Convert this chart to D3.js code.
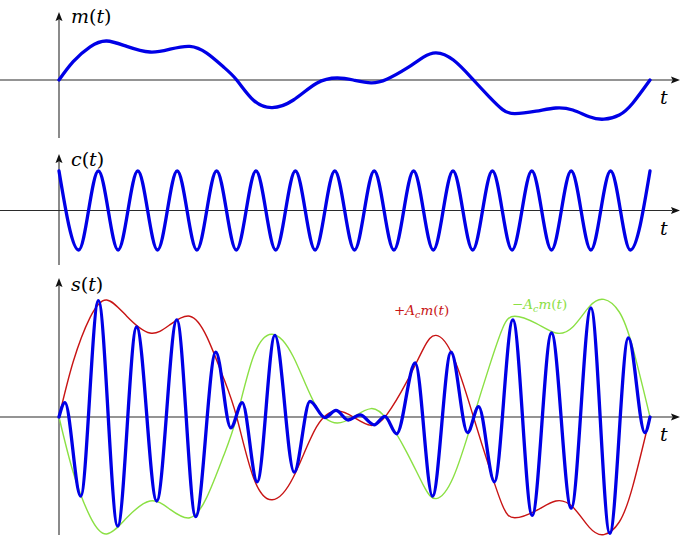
<!DOCTYPE html>
<html>
<head>
<meta charset="utf-8">
<script src="https://cdn.jsdelivr.net/npm/d3@7"></script>
<style>
  body { margin: 0; background: #fff; }
  svg { display: block; }
  .lbl { font-family: "DejaVu Serif", "Liberation Serif", serif; }
</style>
</head>
<body>
<div id="chart"></div>
<script>
// message m(t) (t in carrier periods)
var mTimes = [0, 0.36, 0.79, 1.21, 1.72, 2.31, 2.82, 3.32, 3.75, 4.17, 4.51, 4.93, 5.41, 5.95,
  6.54, 7.06, 7.47, 7.92, 8.32, 8.82, 9.25, 9.57, 10.01, 10.52, 10.92, 11.26, 11.57, 12.11,
  12.61, 13.04, 13.46, 13.83, 14.22, 14.56, 15];
var mValues = [0, 0.46, 0.83, 0.975, 0.84, 0.70, 0.77, 0.84, 0.67, 0.33, 0, -0.5, -0.69, -0.5,
  -0.08, 0.05, 0.0, -0.07, 0.02, 0.29, 0.57, 0.68, 0.5, 0, -0.42, -0.74, -0.84, -0.78,
  -0.70, -0.75, -0.92, -0.98, -0.875, -0.58, 0];

// carrier c(t): its peaks and troughs
var cTimes = [0, 0.5, 1, 1.5, 2, 2.5, 3, 3.5, 4, 4.5, 5, 5.5, 6, 6.5, 7, 7.5, 8, 8.5, 9, 9.5,
  10, 10.5, 11, 11.5, 12, 12.5, 13, 13.5, 14, 14.5, 15];
var cValues = [1, -1, 1, -1, 1, -1, 1, -1, 1, -1, 1, -1, 1, -1, 1, -1, 1, -1, 1, -1,
  1, -1, 1, -1, 1, -1, 1, -1, 1, -1, 1];

// modulated s(t): its turning points
var sTimes = [0, 0.15, 0.55, 1.0, 1.49, 1.97, 2.48, 2.99, 3.47, 3.98, 4.36, 4.65, 5.03, 5.48,
  5.97, 6.37, 6.75, 7.03, 7.34, 7.64, 8.0, 8.27, 8.57, 9.04, 9.48, 9.95, 10.37, 10.65, 11.05,
  11.52, 12.01, 12.5, 13.0, 13.5, 13.98, 14.45, 14.87, 15];
var sValues = [0, 0.12, -0.66, 0.97, -0.91, 0.75, -0.70, 0.81, -0.83, 0.54, -0.09, 0.12, -0.54, 0.68,
  -0.46, 0.13, -0.005, 0.055, -0.025, 0.017, -0.065, 0.005, -0.14, 0.45, -0.66, 0.54, -0.13, 0.086, -0.54,
  0.81, -0.82, 0.70, -0.76, 0.91, -0.97, 0.66, -0.13, 0];

var width = 684, height = 541;
var axisColor = "#2b2b2b",
    blue = "#0000e6",
    red = "#c81414",
    green = "#8be044";

var svg = d3.select("#chart").append("svg")
    .attr("width", width)
    .attr("height", height);

var x = d3.scaleLinear().domain([0, 15]).range([59, 650]);

var panels = [
  { name: "m", y0: 80, amp: 40, yTop: 12, yBottom: 138, labelY: 23 },
  { name: "c", y0: 210.5, amp: 39.5, yTop: 154, yBottom: 265, labelY: 166 },
  { name: "s", y0: 417, amp: 120, yTop: 278, yBottom: 535, labelY: 291 }
];
panels.forEach(function (p) {
  p.y = d3.scaleLinear().domain([-1, 1]).range([p.y0 + p.amp, p.y0 - p.amp]);
});

function zip(ts, vs) {
  return ts.map(function (t, i) { return { t: t, v: vs[i] }; });
}

// axes with -latex arrow heads
panels.forEach(function (p) {
  var g = svg.append("g");
  g.append("line")
    .attr("x1", 0).attr("x2", 672)
    .attr("y1", p.y0).attr("y2", p.y0)
    .attr("stroke", axisColor).attr("stroke-width", 1.1);
  g.append("path")
    .attr("d", "M680," + p.y0 + " L671," + (p.y0 - 3.5) + " L672.5," + p.y0 + " L671," + (p.y0 + 3.5) + "Z")
    .attr("fill", "#111");
  g.append("line")
    .attr("x1", x(0)).attr("x2", x(0))
    .attr("y1", p.yBottom).attr("y2", p.yTop + 8)
    .attr("stroke", axisColor).attr("stroke-width", 1.1);
  g.append("path")
    .attr("d", "M" + x(0) + "," + p.yTop + " L" + (x(0) - 3.5) + "," + (p.yTop + 9) + " L" + x(0) + "," + (p.yTop + 7.5) + " L" + (x(0) + 3.5) + "," + (p.yTop + 9) + "Z")
    .attr("fill", "#111");

  // y label  m(t) / c(t) / s(t)
  var lab = g.append("text")
    .attr("class", "lbl")
    .attr("x", 71)
    .attr("y", p.labelY)
    .style("font-size", "19px");
  lab.append("tspan").style("font-style", "italic").text(p.name);
  lab.append("tspan").text("(");
  lab.append("tspan").style("font-style", "italic").text("t");
  lab.append("tspan").text(")");

  g.append("text")
    .attr("class", "lbl")
    .attr("x", 660)
    .attr("y", p.y0 + 24)
    .style("font-size", "19px")
    .style("font-style", "italic")
    .text("t");
});

// m(t)
var pm = panels[0];
svg.append("path")
  .datum(zip(mTimes, mValues))
  .attr("fill", "none")
  .attr("stroke", blue)
  .attr("stroke-width", 3.3)
  .attr("stroke-linecap", "round")
  .attr("d", d3.line()
    .x(function (d) { return x(d.t); })
    .y(function (d) { return pm.y(d.v); })
    .curve(d3.curveNatural));

// c(t)
var pc = panels[1];
svg.append("path")
  .datum(zip(cTimes, cValues))
  .attr("fill", "none")
  .attr("stroke", blue)
  .attr("stroke-width", 3.3)
  .attr("stroke-linecap", "round")
  .attr("d", d3.line()
    .x(function (d) { return x(d.t); })
    .y(function (d) { return pc.y(d.v); })
    .curve(d3.curveMonotoneX));

// envelopes +A_c m(t), -A_c m(t)
var ps = panels[2];
var envelopes = [
  { sign: 1, color: red },
  { sign: -1, color: green }
];
svg.selectAll(".env")
  .data(envelopes)
  .enter().append("path")
  .attr("class", "env")
  .attr("fill", "none")
  .attr("stroke", function (d) { return d.color; })
  .attr("stroke-width", 1.4)
  .attr("d", function (e) {
    return d3.line()
      .x(function (d) { return x(d.t); })
      .y(function (d) { return ps.y(e.sign * d.v); })
      .curve(d3.curveNatural)(zip(mTimes, mValues));
  });

// s(t)
svg.append("path")
  .datum(zip(sTimes, sValues))
  .attr("fill", "none")
  .attr("stroke", blue)
  .attr("stroke-width", 3.3)
  .attr("stroke-linecap", "round")
  .attr("d", d3.line()
    .x(function (d) { return x(d.t); })
    .y(function (d) { return ps.y(d.v); })
    .curve(d3.curveMonotoneX));

// envelope labels
function envLabel(sign, color, xPos, yPos) {
  var t = svg.append("text")
    .attr("class", "lbl")
    .attr("x", xPos)
    .attr("y", yPos)
    .attr("fill", color)
    .style("font-size", "13.5px");
  t.append("tspan").text(sign);
  t.append("tspan").style("font-style", "italic").text("A");
  t.append("tspan").style("font-style", "italic").style("font-size", "9.5px").attr("dy", 2.5).text("c");
  t.append("tspan").style("font-style", "italic").attr("dy", -2.5).text("m");
  t.append("tspan").text("(");
  t.append("tspan").style("font-style", "italic").text("t");
  t.append("tspan").text(")");
}
envLabel("+", red, 394, 315);
envLabel("\u2212", green, 512, 309);
</script>
</body>
</html>
